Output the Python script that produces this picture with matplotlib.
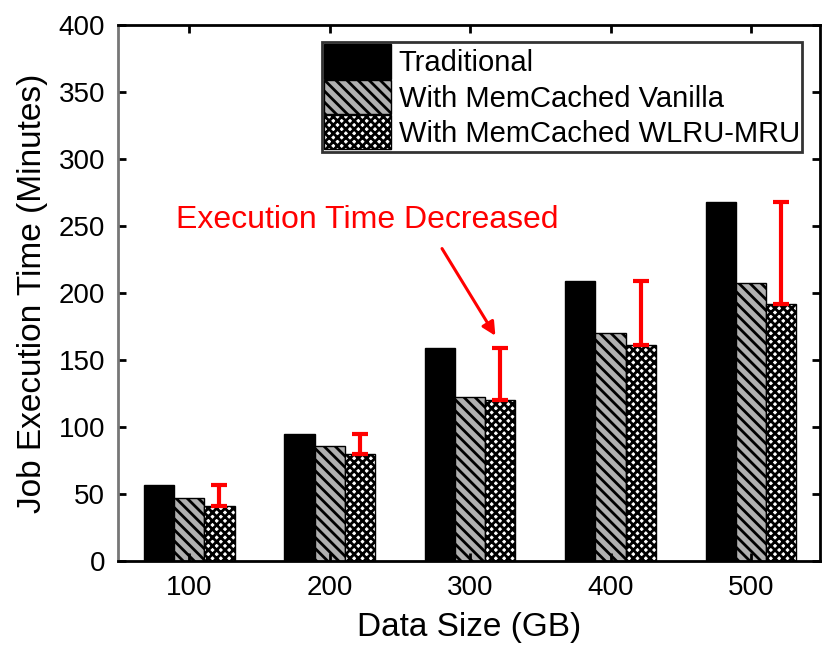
import numpy as np
import matplotlib.pyplot as plt

plt.rcParams['font.family'] = ['Liberation Sans', 'DejaVu Sans']
plt.rcParams['hatch.linewidth'] = 2.0

sizes = ["100", "200", "300", "400", "500"]
traditional = [57, 95, 159, 209, 268]
vanilla = [47, 86, 122, 170, 207]
wlru = [41, 80, 120, 161, 192]

x = np.arange(1, len(sizes) + 1)
w = 0.215
err = np.array(traditional) - np.array(wlru)

fig, ax = plt.subplots(figsize=(8.23, 6.45), dpi=100)

ax.bar(x - w, traditional, w, color="black", edgecolor="black", label="Traditional")
ax.bar(x, vanilla, w, color="#b0b0b0", edgecolor="black", hatch="\\\\\\", label="With MemCached Vanilla")
ax.bar(x + w, wlru, w, color="white", edgecolor="black", hatch="xxxx", label="With MemCached WLRU-MRU")
ax.errorbar(x + w, wlru, yerr=[np.zeros(len(err)), err], fmt="none",
            ecolor="red", elinewidth=3, capsize=6, capthick=3)

ax.set_xlim(0.49, 5.49)
ax.set_ylim(0, 400)
ax.set_xticks(x)
ax.set_xticklabels(sizes)
ax.set_yticks(np.arange(0, 401, 50))
ax.tick_params(direction="in", length=6, width=2, labelsize=20, top=True, right=True)
ax.tick_params(axis="y", pad=9)
ax.tick_params(axis="x", pad=10)
for s in ax.spines.values():
    s.set_linewidth(2)
ax.spines["left"].set_color("#777777")

ax.set_xlabel("Data Size (GB)", fontsize=24, labelpad=8)
ax.set_ylabel("Job Execution Time (Minutes)", fontsize=24, labelpad=8)

# annotation text and its arrow
ax.text(2.27, 248, "Execution Time Decreased", color="red", fontsize=23,
        ha="center", va="baseline")
ax.annotate("", xy=(3.18, 168), xytext=(2.8, 233),
            arrowprops=dict(arrowstyle="-|>", color="red", lw=2.2,
                            mutation_scale=20, shrinkA=0, shrinkB=0))

leg = ax.legend(loc="upper right", fontsize=21, frameon=True, fancybox=False,
                edgecolor="black", handlelength=2.3, handleheight=1.45,
                borderaxespad=0.6, borderpad=0.08, handletextpad=0.25, labelspacing=0.02)
leg.get_frame().set_linewidth(2)

fig.subplots_adjust(left=0.143, right=0.996, top=0.962, bottom=0.13)
fig.savefig("out.png", dpi=100)
